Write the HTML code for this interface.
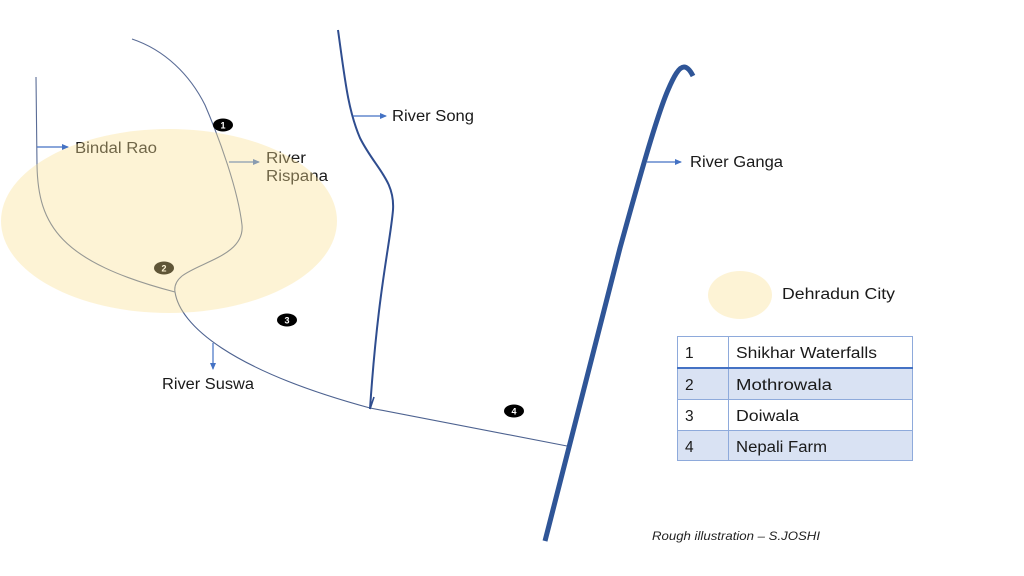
<!DOCTYPE html>
<html><head><meta charset="utf-8"><style>
html,body{margin:0;padding:0;background:#fff;}
svg{display:block;}
text{font-family:"Liberation Sans",sans-serif;}
</style></head><body>
<svg width="1024" height="576" viewBox="0 0 1024 576" xmlns="http://www.w3.org/2000/svg">
<defs>
<marker id="ah" markerWidth="8" markerHeight="8" refX="6" refY="3" orient="auto" markerUnits="userSpaceOnUse">
<path d="M0,0 L7,3 L0,6 z" fill="#4472C4"/>
</marker>
</defs>
<rect width="1024" height="576" fill="#fff"/>

<!-- Bindal Rao -->
<path d="M36,77 L37,165 C38,225 60,262 175,292" fill="none" stroke="#5a6c96" stroke-width="1.1"/>
<!-- Rispana -->
<path d="M132,39 C165,50 190,75 205,105 C220,140 238,190 242,225 C245,255 200,262 182,276 C176,281 174,286 175,292" fill="none" stroke="#5a6c96" stroke-width="1.1"/>
<!-- Suswa -->
<path d="M175,292 C180,325 230,370 370,408 L567,446" fill="none" stroke="#4d6290" stroke-width="1.1"/>
<!-- Song -->
<path d="M338,30 C345,80 348,110 360,138 C375,168 395,180 393,210 C390,245 378,290 370,409" fill="none" stroke="#2f4d8f" stroke-width="2"/>
<path d="M370,409 L374,397" fill="none" stroke="#2f4d8f" stroke-width="1.6"/>
<!-- Ganga -->
<path d="M545,541 L620,248 C632,205 655,120 668,90 C674,76 679,67 684,67 C688,67 691,72 693,76" fill="none" stroke="#2f5597" stroke-width="5" stroke-linecap="butt"/>

<!-- arrows -->
<line x1="37" y1="147" x2="68" y2="147" stroke="#4472C4" stroke-width="1.2" marker-end="url(#ah)"/>
<line x1="229" y1="162" x2="259" y2="162" stroke="#4472C4" stroke-width="1.2" marker-end="url(#ah)"/>
<line x1="353" y1="116" x2="386" y2="116" stroke="#4472C4" stroke-width="1.2" marker-end="url(#ah)"/>
<line x1="647" y1="162" x2="681" y2="162" stroke="#4472C4" stroke-width="1.2" marker-end="url(#ah)"/>
<line x1="213" y1="343" x2="213" y2="369" stroke="#4472C4" stroke-width="1.2" marker-end="url(#ah)"/>

<!-- labels -->
<g fill="#1a1a1a" font-size="15.5">
<text x="75" y="153" textLength="82" lengthAdjust="spacingAndGlyphs">Bindal Rao</text>
<text x="266" y="163" textLength="40" lengthAdjust="spacingAndGlyphs">River</text>
<text x="266" y="181" textLength="62" lengthAdjust="spacingAndGlyphs">Rispana</text>
<text x="392" y="121" textLength="82" lengthAdjust="spacingAndGlyphs">River Song</text>
<text x="690" y="167" textLength="93" lengthAdjust="spacingAndGlyphs">River Ganga</text>
<text x="162" y="389" textLength="92" lengthAdjust="spacingAndGlyphs">River Suswa</text>
<text x="782" y="299" textLength="113" lengthAdjust="spacingAndGlyphs">Dehradun City</text>
</g>

<!-- markers -->
<g font-size="9" font-weight="bold" fill="#fff" text-anchor="middle">
<ellipse cx="223" cy="125" rx="10" ry="6.5" fill="#000"/>
<text x="223" y="128.5">1</text>
<ellipse cx="164" cy="268" rx="10" ry="6.5" fill="#000"/>
<text x="164" y="271.5">2</text>
<ellipse cx="287" cy="320" rx="10" ry="6.5" fill="#000"/>
<text x="287" y="323.5">3</text>
<ellipse cx="514" cy="411" rx="10" ry="6.5" fill="#000"/>
<text x="514" y="414.5">4</text>
</g>

<!-- city overlay -->
<ellipse cx="169" cy="221" rx="168" ry="92" fill="rgb(250,224,145)" fill-opacity="0.38"/>
<ellipse cx="740" cy="295" rx="32" ry="24" fill="rgb(250,224,145)" fill-opacity="0.38"/>

<!-- table -->
<rect x="677" y="368" width="236" height="31" fill="#D9E2F3"/>
<rect x="677" y="430" width="236" height="31" fill="#D9E2F3"/>
<g stroke="#8EAADB" stroke-width="1" fill="none">
<rect x="677.5" y="336.5" width="235" height="124"/>
<line x1="677" y1="399.5" x2="913" y2="399.5"/>
<line x1="677" y1="430.5" x2="913" y2="430.5"/>
<line x1="728.5" y1="336" x2="728.5" y2="461"/>
</g>
<line x1="677" y1="368" x2="913" y2="368" stroke="#4472C4" stroke-width="2"/>
<g fill="#1a1a1a" font-size="15.5">
<text x="685" y="358">1</text>
<text x="736" y="358" textLength="141" lengthAdjust="spacingAndGlyphs">Shikhar Waterfalls</text>
<text x="685" y="390">2</text>
<text x="736" y="390" textLength="96" lengthAdjust="spacingAndGlyphs">Mothrowala</text>
<text x="685" y="421">3</text>
<text x="736" y="421" textLength="63" lengthAdjust="spacingAndGlyphs">Doiwala</text>
<text x="685" y="452">4</text>
<text x="736" y="452" textLength="91" lengthAdjust="spacingAndGlyphs">Nepali Farm</text>
</g>

<text x="652" y="540" font-size="12" font-style="italic" fill="#222" textLength="168" lengthAdjust="spacingAndGlyphs">Rough illustration – S.JOSHI</text>
</svg>
</body></html>
